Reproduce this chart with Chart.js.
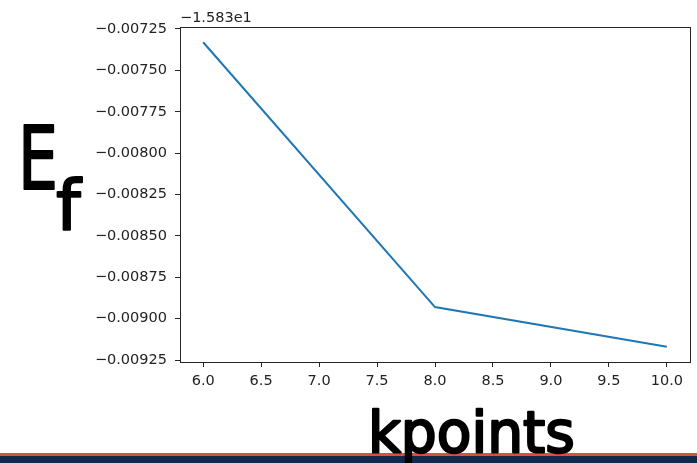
<!DOCTYPE html>
<html>
<head>
<meta charset="utf-8">
<script src="https://cdn.jsdelivr.net/npm/chart.js@4.4.1/dist/chart.umd.min.js"></script>
<style>
  html, body { margin: 0; padding: 0; background: #fff; }
  #wrap { width: 697px; height: 463px; position: relative; }
</style>
</head>
<body>
<div id="wrap"><canvas id="c"></canvas></div>
<script>
// k-point mesh sizes and formation energy (shown relative to the offset -1.583e1)
const kpoints = [6, 8, 10];
const energyShift = [-0.00733, -0.00893, -0.00917];
const offsetLabel = '\u22121.583e1';

const xTicks = [6.0, 6.5, 7.0, 7.5, 8.0, 8.5, 9.0, 9.5, 10.0];
const yTicks = [-0.00725, -0.00750, -0.00775, -0.00800, -0.00825, -0.00850, -0.00875, -0.00900, -0.00925];

const axisColor = '#262626';
const tickFont = { family: '"DejaVu Sans"', size: 14.5 };

// white page, frame around plot, offset text, hand-lettered labels, footer strip
const decor = {
  id: 'decor',
  beforeDraw(chart) {
    const ctx = chart.ctx;
    ctx.save();
    ctx.fillStyle = '#ffffff';
    ctx.fillRect(0, 0, chart.width, chart.height);
    ctx.restore();
  },
  afterDraw(chart) {
    const ctx = chart.ctx;
    const a = chart.chartArea;
    ctx.save();
    ctx.strokeStyle = axisColor;
    ctx.lineWidth = 1;
    ctx.strokeRect(Math.round(a.left) + 0.5, Math.round(a.top) + 0.5,
                   Math.round(a.right - a.left), Math.round(a.bottom - a.top));

    ctx.fillStyle = '#222';
    ctx.font = '14.5px "DejaVu Sans"';
    ctx.textAlign = 'left';
    ctx.textBaseline = 'bottom';
    ctx.fillText(offsetLabel, a.left, a.top - 2);

    // footer strip
    ctx.fillStyle = '#d9503f';
    ctx.fillRect(0, 453, chart.width, 3);
    ctx.fillStyle = '#13294b';
    ctx.fillRect(0, 456, chart.width, 7);

    // hand-lettered axis names
    ctx.fillStyle = '#000';
    ctx.strokeStyle = '#000';
    ctx.lineWidth = 2;
    ctx.lineJoin = 'round';
    ctx.textBaseline = 'alphabetic';
    const letter = (txt, x, y, sx, sy, size) => {
      ctx.save();
      ctx.translate(x, y);
      ctx.scale(sx, sy);
      ctx.font = size + 'px "DejaVu Sans"';
      ctx.fillText(txt, 0, 0);
      ctx.strokeText(txt, 0, 0);
      ctx.restore();
    };
    letter('E', 18, 189, 0.72, 1, 88);
    letter('f', 56, 230, 1, 1, 70);
    letter('kpoints', 368, 452, 1.18, 1.2, 48);
    ctx.restore();
  }
};

new Chart(document.getElementById('c'), {
  type: 'line',
  data: {
    datasets: [{
      data: kpoints.map((k, i) => ({ x: k, y: energyShift[i] })),
      borderColor: '#1f77b4',
      borderWidth: 2,
      pointRadius: 0,
      tension: 0,
      fill: false
    }]
  },
  options: {
    responsive: true,
    maintainAspectRatio: false,
    devicePixelRatio: 1,
    animation: false,
    layout: { padding: { top: 27, right: 7, left: 0, bottom: 0 } },
    plugins: { legend: { display: false }, tooltip: { enabled: false } },
    scales: {
      x: {
        type: 'linear',
        min: 5.8,
        max: 10.2,
        afterBuildTicks: s => { s.ticks = xTicks.map(v => ({ value: v })); },
        afterFit: s => { s.height = 101; },
        ticks: {
          autoSkip: false,
          maxRotation: 0,
          padding: 6,
          color: '#222',
          font: tickFont,
          callback: v => v.toFixed(1)
        },
        grid: { drawOnChartArea: false, drawTicks: true, tickLength: 5, tickColor: axisColor },
        border: { display: true, color: axisColor, width: 1 }
      },
      y: {
        type: 'linear',
        min: -0.009262,
        max: -0.007238,
        afterBuildTicks: s => { s.ticks = yTicks.map(v => ({ value: v })); },
        afterFit: s => { s.width = 180; },
        ticks: {
          autoSkip: false,
          padding: 8,
          color: '#222',
          font: tickFont,
          callback: v => '\u2212' + Math.abs(v).toFixed(5)
        },
        grid: { drawOnChartArea: false, drawTicks: true, tickLength: 5, tickColor: axisColor },
        border: { display: true, color: axisColor, width: 1 }
      }
    }
  },
  plugins: [decor]
});
</script>
</body>
</html>
